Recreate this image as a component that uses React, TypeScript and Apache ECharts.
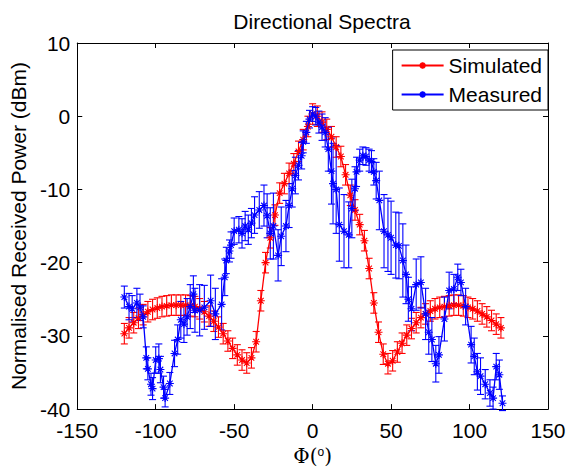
import React, { useEffect, useRef } from "react";
import * as echarts from "echarts";

const FONT = "Liberation Sans, Arial, sans-serif";

const xTicks = { min: -150, max: 150, interval: 50 };
const yTicks = { min: -40, max: 10, interval: 10 };

const simX = [
  -120, -117, -114, -111, -108, -105, -102, -99, -96, -93, -90, -87, -84, -81, -78, -75, -72, -69, -66, -63,
  -60, -57, -54, -51, -48, -45, -42, -39, -36, -33, -30, -27, -24, -21, -18, -15, -12, -9, -6, -3,
  0, 3, 6, 9, 12, 15, 18, 21, 24, 27, 30, 33, 36, 39, 42, 45, 48, 51, 54, 57,
  60, 63, 66, 69, 72, 75, 78, 81, 84, 87, 90, 93, 96, 99, 102, 105, 108, 111, 114, 117, 120,
];
const simY = [
  -29.7, -28.9, -28.2, -27.6, -27.1, -26.7, -26.4, -26.2, -26.0, -25.9, -25.8, -25.8, -25.8, -25.8, -25.9, -26.0, -26.3, -26.7, -27.3, -28.0,
  -28.8, -29.7, -30.7, -31.7, -32.6, -33.3, -33.7, -33.0, -30.8, -25.2, -20.0, -16.6, -13.5, -10.5, -9.2, -7.8, -6.5, -4.8, -3.2, -1.4,
  0.3, 0.0, -0.8, -1.8, -2.8, -4.2, -5.5, -8.0, -10.8, -12.8, -14.8, -17.0, -20.8, -25.5, -29.5, -32.5, -33.8, -33.4, -32.2, -31.0,
  -29.9, -29.0, -28.2, -27.5, -27.0, -26.6, -26.3, -26.1, -26.0, -25.9, -25.8, -25.8, -25.9, -26.1, -26.3, -26.6, -27.0, -27.4, -27.9, -28.4, -28.9,
];
const SIM_ERR = 1.4;

const measX = [
  -120, -117, -115, -112, -110, -108, -106, -105, -103, -102, -100, -98, -97, -95, -94, -91, -88, -86, -84, -82,
  -80, -78, -76, -75, -72, -69, -65, -62, -58, -56, -55, -53, -52, -50, -47, -45, -43, -41, -39, -37,
  -34, -31, -29, -27, -25, -22, -20, -17, -15, -13, -11, -9, -7, -6, -4, -2, 0, 2, 4, 6,
  8, 10, 12, 13, 15, 17, 20, 23, 25, 27, 28, 30, 32, 34, 36, 37.5, 39, 40.5, 42.5, 45.5,
  48, 50, 53, 55, 57.5, 59.5, 61, 63, 66, 69, 72, 74, 76, 78.5, 80.5, 84, 87, 90, 92.5, 94.5,
  97.5, 101, 103, 105, 107, 110, 113, 115, 117, 119, 121,
];
const measY = [
  -24.7, -26.0, -26.3, -25.5, -26.1, -27.4, -33.0, -34.5, -36.6, -37.2, -33.3, -33.1, -34.6, -37.0, -38.5, -36.5, -32.4, -30.5, -27.8, -28.4,
  -27.4, -26.0, -24.3, -26.5, -26.5, -26.1, -25.2, -27.0, -25.7, -22.0, -19.7, -18.4, -17.6, -15.7, -15.5, -16.0, -15.0, -15.5, -14.6, -13.5,
  -12.8, -12.2, -13.6, -16.0, -15.0, -19.0, -16.4, -15.0, -12.2, -9.9, -8.1, -6.7, -5.4, -3.5, -2.2, -0.4, 0.3, 0.0, -0.8, -1.5,
  -2.2, -4.5, -7.5, -9.2, -10.0, -14.8, -15.7, -16.2, -12.6, -9.9, -7.6, -6.0, -5.4, -5.5, -6.0, -6.2, -7.6, -8.8, -11.5, -15.7,
  -16.2, -16.6, -17.6, -17.7, -19.7, -21.6, -25.0, -26.3, -23.0, -22.7, -27.0, -29.5, -30.5, -33.8, -32.6, -27.7, -23.8, -23.6, -22.0, -22.7,
  -26.0, -31.2, -32.8, -34.9, -35.5, -36.6, -37.8, -38.5, -34.2, -35.3, -39.2,
];
const measErr = [
  1.5, 1.8, 1.8, 2.0, 1.8, 1.5, 1.5, 1.5, 1.5, 1.5, 1.8, 2.0, 1.8, 1.5, 1.2, 1.5, 1.8, 2.0, 2.5, 2.5,
  2.5, 3.0, 2.5, 3.0, 3.5, 3.0, 3.5, 3.5, 3.5, 2.5, 1.8, 1.5, 1.8, 1.8, 1.8, 2.0, 2.0, 2.0, 2.0, 2.5,
  2.5, 2.8, 3.0, 3.5, 4.5, 3.5, 4.0, 3.5, 3.0, 2.5, 2.5, 2.0, 1.8, 1.5, 1.5, 1.2, 1.0, 1.2, 1.5, 1.8,
  2.0, 3.0, 4.5, 5.5, 6.0, 5.0, 5.0, 4.5, 4.0, 3.0, 2.0, 1.5, 1.2, 1.2, 1.5, 1.5, 1.8, 2.5, 4.0, 5.0,
  5.0, 5.0, 4.5, 4.5, 5.0, 4.0, 3.0, 3.0, 3.5, 3.5, 3.5, 3.0, 3.0, 2.5, 2.5, 3.0, 2.5, 2.0, 1.8, 1.8,
  2.5, 2.5, 2.5, 2.5, 2.5, 2.0, 1.8, 1.5, 1.8, 2.0, 1.0,
];

const RED = "#ff0000";
const BLUE = "#0000ff";
const STAR = "path://M5,0L5,10M0,5L10,5M1.5,1.5L8.5,8.5M1.5,8.5L8.5,1.5";

function errorSeries(name: string, color: string, rows: number[][]) {
  return {
    type: "custom",
    name: name + "-err",
    data: rows,
    encode: { x: 0, y: [1, 2] },
    silent: true,
    z: 2,
    renderItem: (_params: any, api: any) => {
      const x = api.value(0);
      const lo = api.coord([x, api.value(1)]);
      const hi = api.coord([x, api.value(2)]);
      const w = 3.5;
      const st = { stroke: color, lineWidth: 1.1 };
      return {
        type: "group",
        children: [
          { type: "line", shape: { x1: lo[0], y1: lo[1], x2: hi[0], y2: hi[1] }, style: st },
          { type: "line", shape: { x1: lo[0] - w, y1: lo[1], x2: lo[0] + w, y2: lo[1] }, style: st },
          { type: "line", shape: { x1: hi[0] - w, y1: hi[1], x2: hi[0] + w, y2: hi[1] }, style: st },
        ],
      };
    },
  };
}

export default function App() {
  const ref = useRef<HTMLDivElement>(null);
  useEffect(() => {
    if (!ref.current) return;
    const chart = echarts.init(ref.current, undefined, { renderer: "svg" });
    const simRows = simX.map((x, i) => [x, simY[i] - SIM_ERR, simY[i] + SIM_ERR]);
    const measRows = measX.map((x, i) => [x, measY[i] - measErr[i], measY[i] + measErr[i]]);
    const axisLine = { show: true, onZero: false, lineStyle: { color: "#000", width: 1 } };
    const tick = { show: true, inside: true, length: 5, lineStyle: { color: "#000" } };
    const option: any = {
      animation: false,
      backgroundColor: "#fff",
      textStyle: { fontFamily: FONT },
      title: {
        text: "Directional Spectra",
        left: 317,
        top: 6,
        textAlign: "center",
        textStyle: { fontSize: 21, fontWeight: "normal", color: "#000", fontFamily: FONT },
      },
      legend: {
        data: ["Simulated", "Measured"],
        orient: "vertical",
        right: 28,
        top: 50,
        backgroundColor: "#fff",
        borderColor: "#000",
        borderWidth: 1,
        borderRadius: 0,
        padding: [5, 6, 5, 8],
        itemGap: 8,
        itemWidth: 42,
        itemHeight: 8,
        textStyle: { fontSize: 21, color: "#000", fontFamily: FONT },
      },
      grid: { left: 75, right: 28, top: 43, bottom: 58 },
      xAxis: [
        {
          type: "value",
          ...xTicks,
          name: "{a|Φ(}{s|o}{a|)}",
          nameLocation: "middle",
          nameGap: 34,
          nameTextStyle: {
            rich: {
              a: { fontSize: 20, fontFamily: "DejaVu Serif, serif", color: "#000" },
              s: { fontSize: 12, fontFamily: FONT, color: "#000", verticalAlign: "top", padding: [0, 0, 8, 0] },
            },
          },
          axisLine,
          axisTick: tick,
          splitLine: { show: false },
          axisLabel: { fontSize: 21, color: "#000", margin: 11, fontFamily: FONT },
        },
        {
          type: "value",
          ...xTicks,
          position: "top",
          axisLine,
          axisTick: tick,
          splitLine: { show: false },
          axisLabel: { show: false },
        },
      ],
      yAxis: [
        {
          type: "value",
          ...yTicks,
          name: "Normalised Received Power (dBm)",
          nameLocation: "middle",
          nameGap: 30,
          nameTextStyle: { fontSize: 21, color: "#000", fontFamily: FONT },
          axisLine,
          axisTick: tick,
          splitLine: { show: false },
          axisLabel: { fontSize: 21, color: "#000", margin: 7, fontFamily: FONT },
        },
        {
          type: "value",
          ...yTicks,
          position: "right",
          axisLine,
          axisTick: tick,
          splitLine: { show: false },
          axisLabel: { show: false },
        },
      ],
      series: [
        errorSeries("Simulated", RED, simRows),
        {
          type: "line",
          name: "Simulated",
          data: simX.map((x, i) => [x, simY[i]]),
          symbol: STAR,
          symbolSize: 8,
          showAllSymbol: true,
          lineStyle: { color: RED, width: 1.3 },
          itemStyle: { color: RED, borderColor: RED, borderWidth: 1.1 },
          z: 3,
        },
        errorSeries("Measured", BLUE, measRows),
        {
          type: "line",
          name: "Measured",
          data: measX.map((x, i) => [x, measY[i]]),
          symbol: STAR,
          symbolSize: 8,
          showAllSymbol: true,
          lineStyle: { color: BLUE, width: 1.3 },
          itemStyle: { color: BLUE, borderColor: BLUE, borderWidth: 1.1 },
          z: 5,
        },
      ],
    };
    chart.setOption(option);
    return () => chart.dispose();
  }, []);
  return (
    <div
      ref={ref}
      style={{ position: "fixed", left: 0, top: 0, width: 576, height: 471, background: "#fff" }}
    />
  );
}
